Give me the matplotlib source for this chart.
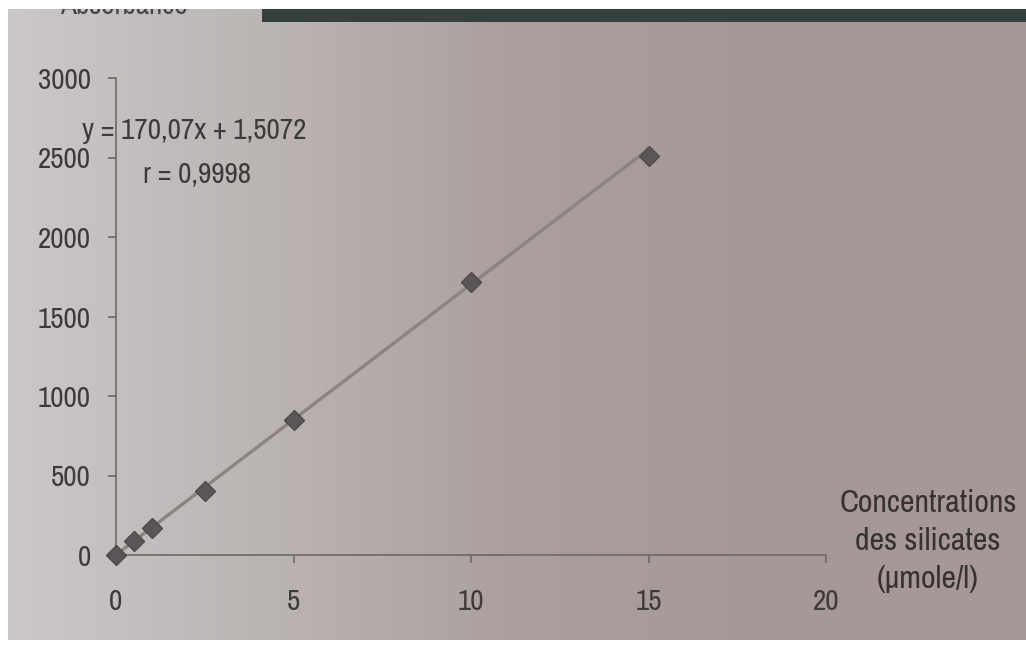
import numpy as np
import matplotlib
matplotlib.use("Agg")
import matplotlib.pyplot as plt
from matplotlib.patches import Rectangle
from matplotlib.colors import LinearSegmentedColormap

# Calibration data: silicate concentration (µmole/l) vs absorbance
concentrations = [0, 0.5, 1, 2.5, 5, 10, 15]
absorbance = [0, 90, 170, 400, 850, 1720, 2510]

# Linear regression reported on the chart
slope = 170.07
intercept = 1.5072
r_value = 0.9998

x_ticks = [0, 5, 10, 15, 20]
y_ticks = [0, 500, 1000, 1500, 2000, 2500, 3000]

plt.rcParams["font.family"] = ["Archivo Narrow", "PT Sans Narrow", "DejaVu Sans"]

text_col = "#3e3a3a"
axis_col = "#6e6867"
fs = 21

fig = plt.figure(figsize=(10.26, 6.5), dpi=100, facecolor="white")

# paper background with a soft horizontal shading
bg = fig.add_axes([8 / 1026, 10 / 650, 1 - 8 / 1026, 1 - 18 / 650], zorder=-10)
cmap = LinearSegmentedColormap.from_list(
    "paper", ["#cbc8c7", "#bbb5b4", "#ab9f9d", "#a59896", "#a59896"])
grad = np.linspace(0, 1, 512).reshape(1, -1)
bg.imshow(grad, aspect="auto", cmap=cmap, extent=[0, 1, 0, 1])
bg.set_axis_off()

# dark strip along the top edge
fig.patches.append(Rectangle((262 / 1026, 1 - 22 / 650), 1, 14 / 650,
                             transform=fig.transFigure, facecolor="#34403e",
                             edgecolor="none", zorder=1))
fig.text(60 / 1026, 1 - 6 / 650, "Absorbance", color="#4a4545",
         fontsize=fs, ha="left", va="center", zorder=2)
fig.patches.append(Rectangle((0, 1 - 9 / 650), 1, 9 / 650,
                             transform=fig.transFigure, facecolor="white",
                             edgecolor="none", zorder=6))

ax = fig.add_axes([116 / 1026, 1 - 555 / 650, 710 / 1026, 477 / 650])
ax.patch.set_alpha(0)

# regression line over the measured range
xs = np.array([0, 15])
ax.plot(xs, slope * xs + intercept, color="#8b8482", lw=2.4,
        solid_capstyle="round", zorder=2)
ax.plot(concentrations, absorbance, linestyle="none", marker="D",
        markersize=10, color="#5b5655", markeredgecolor="#4e4a49",
        zorder=3, clip_on=False)

ax.set_xlim(0, 20)
ax.set_ylim(0, 3000)
ax.set_xticks(x_ticks)
ax.set_yticks(y_ticks)
ax.set_xticklabels([str(v) for v in x_ticks])
ax.set_yticklabels([str(v) for v in y_ticks])

for side in ("top", "right"):
    ax.spines[side].set_visible(False)
for side in ("left", "bottom"):
    ax.spines[side].set_color(axis_col)
    ax.spines[side].set_linewidth(1.2)

ax.tick_params(axis="both", direction="out", length=6, width=1.2,
               color=axis_col, labelcolor=text_col, labelsize=fs)
ax.tick_params(axis="x", pad=18)
ax.tick_params(axis="y", pad=12)

eq = f"y = {slope:.2f}x + {intercept:.4f}".replace(".", ",")
rr = f"r = {r_value:.4f}".replace(".", ",")
fig.text(82 / 1026, 1 - 130 / 650, eq, color=text_col, fontsize=fs,
         ha="left", va="center")
fig.text(143 / 1026, 1 - 174 / 650, rr, color=text_col, fontsize=fs,
         ha="left", va="center")

fig.text(928 / 1026, 1 - 541 / 650,
         "Concentrations\ndes silicates\n(µmole/l)", color="#363232",
         fontsize=23, ha="center", va="center", linespacing=1.45)

fig.savefig("out.png", dpi=100, facecolor="white")
